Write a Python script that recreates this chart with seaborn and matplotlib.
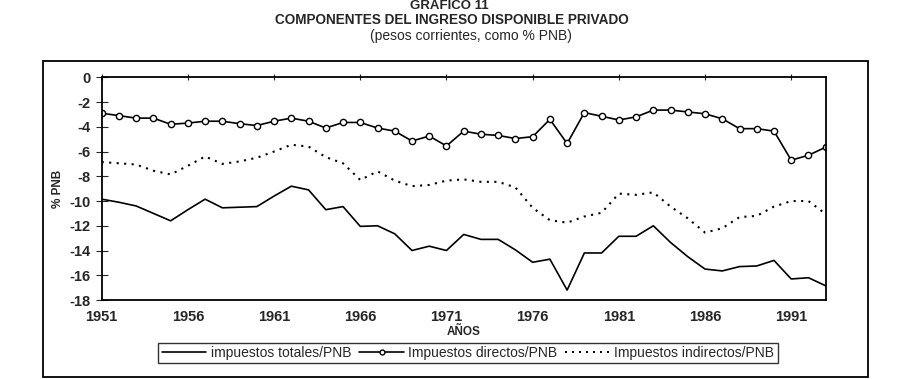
import numpy as np
import pandas as pd
import matplotlib
matplotlib.use("Agg")
import matplotlib.pyplot as plt
import seaborn as sns
from matplotlib.lines import Line2D
from matplotlib.patches import Rectangle

years = list(range(1951, 1994))

totales = [-9.85, -10.1, -10.4, -11.0, -11.6, -10.7, -9.85, -10.55, -10.5, -10.45,
           -9.6, -8.8, -9.1, -10.7, -10.45, -12.05, -12.0, -12.65, -14.0, -13.65,
           -14.0, -12.7, -13.1, -13.1, -13.95, -14.95, -14.7, -17.2, -14.2, -14.2,
           -12.85, -12.85, -12.0, -13.35, -14.5, -15.5, -15.65, -15.3, -15.25, -14.8,
           -16.3, -16.2, -16.85]

directos = [-2.9, -3.1, -3.3, -3.3, -3.8, -3.7, -3.55, -3.55, -3.75, -3.9,
            -3.55, -3.3, -3.55, -4.1, -3.65, -3.65, -4.1, -4.35, -5.15, -4.75,
            -5.55, -4.35, -4.6, -4.7, -4.95, -4.8, -3.4, -5.35, -2.85, -3.15,
            -3.45, -3.2, -2.65, -2.65, -2.8, -2.95, -3.35, -4.15, -4.15, -4.35,
            -6.7, -6.3, -5.65]

indirectos = [-6.85, -6.95, -7.05, -7.55, -7.85, -7.15, -6.4, -7.0, -6.8, -6.5,
              -6.0, -5.45, -5.6, -6.45, -6.95, -8.3, -7.6, -8.35, -8.8, -8.7,
              -8.35, -8.25, -8.45, -8.45, -8.9, -10.55, -11.55, -11.75, -11.25, -10.95,
              -9.4, -9.5, -9.3, -10.45, -11.4, -12.55, -12.2, -11.3, -11.2, -10.45,
              -10.0, -10.0, -11.05]

xticks = list(range(1951, 1994, 5))
yticks = list(range(0, -19, -2))

df = pd.DataFrame({"anio": years, "totales": totales,
                   "directos": directos, "indirectos": indirectos})

sns.set_theme(style="white")
plt.rcParams['font.family'] = ['Liberation Sans', 'DejaVu Sans']

fig = plt.figure(figsize=(8.99, 3.79), dpi=100)
ax = fig.add_axes([101.7 / 899, 1 - 300 / 379, (825.7 - 101.7) / 899, (300 - 77.3) / 379])

sns.lineplot(data=df, x="anio", y="totales", color="black", lw=1.2, ax=ax)
sns.lineplot(data=df, x="anio", y="directos", color="black", lw=1.2, marker="o",
             markersize=4.5, markerfacecolor="white", markeredgecolor="black",
             markeredgewidth=1.0, ax=ax)
sns.lineplot(data=df, x="anio", y="indirectos", color="black", lw=1.5,
             linestyle=(0, (1.0, 2.6)), ax=ax)

ax.set_xlim(1951, 1993)
ax.set_ylim(-18, 0)
ax.set_xticks(xticks)
ax.set_yticks(yticks)
ax.set_xticklabels([str(y) for y in xticks], fontsize=10.5, fontweight="bold")
ax.set_yticklabels([str(v) for v in yticks], fontsize=10.5, fontweight="bold")
ax.tick_params(axis="x", which="both", bottom=False, top=True, labelbottom=True,
               labeltop=False, direction="inout", length=5, width=0.8, pad=5)
ax.tick_params(axis="y", direction="inout", length=8, width=0.8, pad=4, left=True)
ax.set_xlabel("AÑOS", fontsize=8.5, fontweight="bold", labelpad=1)
ax.set_ylabel("% PNB", fontsize=8.5, fontweight="bold", labelpad=4)
for s in ax.spines.values():
    s.set_color("black")
    s.set_linewidth(1.3)
ax.grid(False)

handles = [
    Line2D([], [], color="black", lw=1.2),
    Line2D([], [], color="black", lw=1.2, marker="o", markersize=3.5,
           markerfacecolor="white", markeredgecolor="black"),
    Line2D([], [], color="black", lw=1.4, linestyle=(0, (1.0, 2.6))),
]
labels = ["impuestos totales/PNB", "Impuestos directos/PNB", "Impuestos indirectos/PNB"]
leg = fig.legend(handles, labels, loc="center", bbox_to_anchor=(468 / 899, 1 - 353 / 379),
                 ncol=3, fontsize=10, frameon=True, fancybox=False, handlelength=3.2,
                 handletextpad=0.3, columnspacing=0.6, borderpad=0.25)
leg.get_frame().set_edgecolor("black")
leg.get_frame().set_linewidth(1.0)

fig.patches.append(Rectangle((43 / 899, 1 - 377 / 379), 825 / 899, 316 / 379,
                             transform=fig.transFigure, fill=False,
                             edgecolor="black", lw=1.3))

fig.text(449 / 899, 1 - 6 / 379, "GRAFICO 11", ha="center", va="center",
         fontsize=9.5, fontweight="bold")
fig.text(452 / 899, 1 - 20 / 379, "COMPONENTES DEL INGRESO DISPONIBLE PRIVADO",
         ha="center", va="center", fontsize=9.8, fontweight="bold")
fig.text(471 / 899, 1 - 36 / 379, "(pesos corrientes, como % PNB)",
         ha="center", va="center", fontsize=10)

fig.savefig("out.png", dpi=100, facecolor="white")
